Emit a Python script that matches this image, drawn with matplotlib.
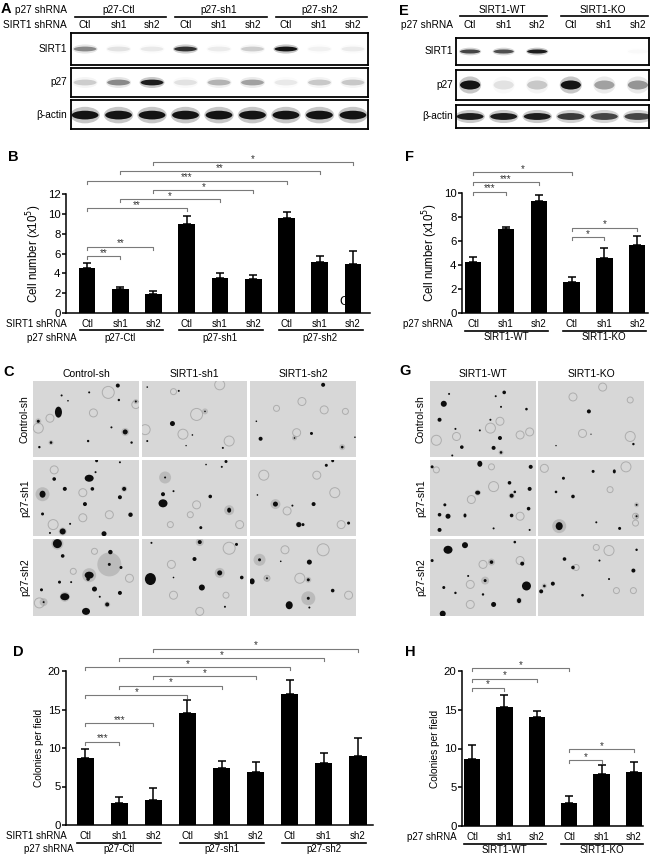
import numpy as np
import matplotlib
matplotlib.use("Agg")
import matplotlib.pyplot as plt
from matplotlib.patches import Ellipse
from matplotlib.transforms import blended_transform_factory

plt.rcParams["font.family"] = ["Liberation Sans", "DejaVu Sans"]

W, H = 650, 856

# ---- bar chart data ----
b_lanes = ["Ctl", "sh1", "sh2"] * 3
b_groups = ["p27-Ctl", "p27-sh1", "p27-sh2"]
b_vals = [4.5, 2.45, 1.9, 9.0, 3.5, 3.4, 9.55, 5.15, 4.9]
b_errs = [0.57, 0.2, 0.27, 0.8, 0.56, 0.43, 0.6, 0.6, 1.38]
b_sig = [(0, 1, 5.75, "**"), (0, 2, 6.7, "**"), (0, 3, 10.55, "**"), (1, 4, 11.45, "*"),
         (2, 5, 12.4, "*"), (0, 6, 13.35, "***"), (1, 7, 14.3, "**"), (2, 8, 15.2, "*")]

f_lanes = ["Ctl", "sh1", "sh2"] * 2
f_groups = ["SIRT1-WT", "SIRT1-KO"]
f_vals = [4.27, 7.04, 9.3, 2.55, 4.55, 5.67]
f_errs = [0.42, 0.12, 0.5, 0.45, 0.84, 0.78]
f_sig = [(0, 1, 10.1, "***"), (0, 2, 10.9, "***"), (0, 3, 11.75, "*"),
         (3, 4, 6.3, "*"), (3, 5, 7.1, "*")]

d_vals = [8.75, 2.9, 3.25, 14.55, 7.45, 6.9, 17.05, 8.0, 8.95]
d_errs = [1.08, 0.77, 1.5, 1.64, 0.9, 1.3, 1.73, 1.3, 2.3]
d_sig = [(0, 1, 10.8, "***"), (0, 2, 13.25, "***"), (0, 3, 16.9, "*"), (1, 4, 18.1, "*"),
         (2, 5, 19.3, "*"), (0, 6, 20.5, "*"), (1, 7, 21.7, "*"), (2, 8, 22.9, "*")]

h_vals = [8.7, 15.35, 14.05, 3.0, 6.65, 7.0]
h_errs = [1.8, 1.5, 0.77, 0.86, 1.2, 1.2]
h_sig = [(0, 1, 17.85, "*"), (0, 2, 19.0, "*"), (0, 3, 20.4, "*"),
         (3, 4, 8.5, "*"), (3, 5, 9.9, "*")]

# ---- western blot band intensities (0 = none, 1 = saturated) ----
a_sirt1 = [0.45, 0.1, 0.08, 0.85, 0.07, 0.18, 1.0, 0.05, 0.07]
a_p27 = [0.18, 0.45, 0.95, 0.1, 0.28, 0.35, 0.08, 0.2, 0.2]
a_actin = [1.0, 1.0, 1.0, 1.0, 1.0, 1.0, 1.0, 1.0, 1.0]
e_sirt1 = [0.75, 0.7, 0.95, 0.0, 0.0, 0.02]
e_p27 = [1.0, 0.1, 0.2, 1.0, 0.35, 0.4]
e_actin = [0.95, 0.95, 0.95, 0.8, 0.75, 0.75]

# ---- soft agar micrographs: colonies (x, y, rx px, ry px, halo px), rings (x, y, r px) ----
c_cols = ["Control-sh", "SIRT1-sh1", "SIRT1-sh2"]
g_cols = ["SIRT1-WT", "SIRT1-KO"]
img_rows = ["Control-sh", "p27-sh1", "p27-sh2"]

c_colonies = [
    [(0.24, 0.41, 3.5, 5.5, 0), (0.80, 0.06, 2, 2, 0), (0.81, 0.25, 1.2, 1.2, 0), (0.87, 0.67, 2.5, 2.5, 4),
     (0.05, 0.53, 1.5, 1.5, 3), (0.17, 0.81, 1.3, 1.3, 2.5), (0.06, 0.87, 1.2, 1.2, 0), (0.52, 0.79, 1.2, 1.2, 0),
     (0.74, 0.61, 1, 1, 0), (0.93, 0.81, 1.2, 1.2, 0), (0.53, 0.15, 1, 1, 0), (0.27, 0.19, 1, 1, 0),
     (0.33, 0.26, 0.8, 0.8, 0), (0.97, 0.27, 1, 1, 2.5)],
    [(0.29, 0.56, 2.5, 2.5, 0), (0.35, 0.13, 1, 1, 0), (0.05, 0.79, 1, 1, 0), (0.48, 0.71, 0.8, 0.8, 0),
     (0.77, 0.88, 1, 1, 0), (0.05, 0.08, 0.8, 0.8, 0), (0.60, 0.40, 0.8, 0.8, 3), (0.42, 0.85, 0.7, 0.7, 0)],
    [(0.69, 0.05, 2, 2, 0), (0.10, 0.76, 2, 2, 0), (0.58, 0.69, 1.5, 1.5, 0), (0.87, 0.87, 1.3, 1.3, 3),
     (0.06, 0.53, 0.8, 0.8, 0), (0.99, 0.74, 0.8, 0.8, 0), (0.42, 0.75, 0.8, 0.8, 2.5)],
    [(0.09, 0.45, 3, 3.5, 7), (0.53, 0.24, 4.5, 3.5, 0), (0.20, 0.25, 1.8, 1.8, 0), (0.30, 0.38, 2, 2, 0),
     (0.56, 0.38, 1.8, 1.8, 0), (0.49, 0.58, 2, 2, 0), (0.82, 0.49, 2, 2, 0), (0.86, 0.38, 2, 2, 3),
     (0.92, 0.72, 2.2, 2.2, 0), (0.09, 0.71, 1.5, 1.5, 0), (0.28, 0.94, 3, 3, 4), (0.67, 0.97, 2.5, 2.5, 0),
     (0.60, 0.01, 1.5, 1.5, 0), (0.35, 0.84, 1, 1, 0), (0.16, 0.96, 1, 1, 0), (0.59, 0.16, 1, 1, 0),
     (0.82, 0.03, 1, 1, 0)],
    [(0.20, 0.57, 4.5, 4, 0), (0.20, 0.45, 2, 2, 0), (0.65, 0.48, 1.8, 1.8, 0), (0.83, 0.66, 2, 2.5, 5),
     (0.56, 0.89, 1.5, 1.5, 0), (0.80, 0.02, 1.5, 1.5, 0), (0.76, 0.09, 1, 1, 0), (0.22, 0.23, 1, 1, 6),
     (0.30, 0.41, 1, 1, 0), (0.61, 0.06, 0.8, 0.8, 0)],
    [(0.24, 0.58, 2.5, 2.5, 5), (0.46, 0.85, 2.5, 2.5, 3), (0.60, 0.58, 2, 2, 0), (0.93, 0.83, 1.5, 1.5, 0),
     (0.72, 0.07, 1.5, 1.5, 0), (0.78, 0.01, 1.5, 1.5, 0), (0.40, 0.60, 1, 1, 0), (0.07, 0.46, 0.8, 0.8, 0),
     (0.50, 0.85, 1.5, 1.5, 0)],
    [(0.23, 0.06, 4.5, 4.5, 6), (0.53, 0.47, 4.5, 3.5, 7), (0.72, 0.33, 1.5, 1.5, 12), (0.30, 0.75, 4.5, 3.5, 5),
     (0.50, 0.94, 4, 3.5, 0), (0.58, 0.65, 2.5, 2.5, 0), (0.28, 0.22, 1.8, 1.8, 0), (0.73, 0.17, 2.2, 2.2, 0),
     (0.82, 0.70, 2, 2, 0), (0.70, 0.85, 2, 2, 3), (0.63, 0.75, 1, 1, 0), (0.25, 0.56, 1.5, 1.5, 0),
     (0.08, 0.66, 1.5, 1.5, 0), (0.83, 0.37, 1.5, 1.5, 0), (0.36, 0.56, 1, 1, 0), (0.52, 0.52, 1.8, 1.8, 0),
     (0.10, 0.82, 1, 1, 4)],
    [(0.08, 0.52, 5.5, 6, 0), (0.74, 0.44, 2.5, 2.5, 5), (0.57, 0.63, 3, 3, 0), (0.50, 0.26, 2, 2, 0),
     (0.55, 0.04, 2, 2, 4), (0.09, 0.05, 1, 1, 0), (0.95, 0.50, 1.8, 1.8, 0), (0.79, 0.88, 1, 1, 0),
     (0.90, 0.07, 1.5, 1.5, 0), (0.30, 0.50, 0.8, 0.8, 0)],
    [(0.56, 0.30, 2.5, 2.5, 0), (0.55, 0.53, 1.5, 1.5, 3), (0.37, 0.86, 3.5, 4, 0), (0.55, 0.77, 1.5, 1.5, 7),
     (0.02, 0.55, 2.5, 3, 0), (0.78, 0.67, 1.8, 1.8, 0), (0.56, 0.89, 1, 1, 0), (0.09, 0.27, 1.5, 1.5, 6),
     (0.29, 0.29, 0.8, 0.8, 0), (0.16, 0.51, 1, 1, 2.5)],
]
c_rings = [
    [(0.71, 0.15, 6), (0.57, 0.42, 4), (0.97, 0.31, 4), (0.05, 0.62, 5), (0.16, 0.49, 4)],
    [(0.52, 0.44, 6), (0.30, 0.14, 3), (0.83, 0.79, 5), (0.03, 0.64, 5), (0.39, 0.70, 5), (0.74, 0.05, 5)],
    [(0.49, 0.27, 4), (0.70, 0.38, 4), (0.44, 0.68, 4), (0.90, 0.40, 3), (0.25, 0.36, 3)],
    [(0.47, 0.43, 4), (0.72, 0.72, 4), (0.19, 0.85, 5), (0.47, 0.76, 4), (0.20, 0.13, 4)],
    [(0.27, 0.85, 3), (0.93, 0.85, 4), (0.52, 0.59, 4), (0.46, 0.72, 3)],
    [(0.80, 0.43, 5), (0.63, 0.20, 4), (0.35, 0.67, 4), (0.13, 0.20, 5), (0.86, 0.85, 4)],
    [(0.06, 0.83, 5), (0.58, 0.16, 3), (0.38, 0.42, 3), (0.91, 0.51, 4)],
    [(0.83, 0.12, 6), (0.28, 0.33, 4), (0.30, 0.73, 4), (0.80, 0.73, 3), (0.55, 0.94, 4)],
    [(0.69, 0.14, 6), (0.33, 0.14, 4), (0.47, 0.51, 5), (0.93, 0.73, 4), (0.16, 0.51, 3)],
]
g_colonies = [
    [(0.13, 0.30, 3, 3, 0), (0.09, 0.51, 2, 2, 0), (0.70, 0.15, 1.8, 1.8, 0), (0.67, 0.34, 1, 1, 0),
     (0.18, 0.17, 1, 1, 0), (0.66, 0.75, 2, 2, 0), (0.60, 0.88, 2, 2, 0), (0.30, 0.87, 1.8, 1.8, 0),
     (0.67, 0.94, 1.3, 1.3, 2.5), (0.21, 0.98, 1, 1, 0), (0.24, 0.63, 1, 1, 0), (0.57, 0.51, 1, 1, 0),
     (0.47, 0.65, 1, 1, 0), (0.91, 0.37, 1.3, 1.3, 0), (0.62, 0.20, 1, 1, 0)],
    [(0.48, 0.40, 2, 2, 0), (0.90, 0.83, 1.2, 1.2, 0), (0.17, 0.85, 0.7, 0.7, 0), (0.50, 0.70, 0.6, 0.6, 0)],
    [(0.47, 0.05, 2.5, 3, 0), (0.95, 0.09, 2, 2, 0), (0.45, 0.43, 2.5, 2, 3), (0.75, 0.30, 1.8, 1.8, 0),
     (0.77, 0.47, 2, 2, 3), (0.94, 0.38, 2, 2, 0), (0.17, 0.74, 2.5, 2.5, 0), (0.09, 0.72, 1.8, 1.8, 0),
     (0.14, 0.59, 1.5, 1.5, 0), (0.33, 0.73, 1.5, 2, 0), (0.09, 0.92, 2, 2, 0), (0.77, 0.73, 1.8, 1.8, 0),
     (0.93, 0.64, 1.8, 1.8, 0), (0.94, 0.92, 1, 1, 0), (0.60, 0.90, 1, 1, 0), (0.02, 0.09, 1.5, 1.5, 0),
     (0.80, 0.42, 1.3, 1.3, 0)],
    [(0.20, 0.87, 3.5, 4, 7), (0.24, 0.24, 1.5, 1.5, 0), (0.33, 0.48, 1.8, 1.8, 0), (0.17, 0.42, 1.3, 1.3, 0),
     (0.52, 0.15, 1.5, 1.5, 0), (0.72, 0.15, 1.5, 2, 0), (0.77, 0.90, 1.5, 1.5, 0), (0.93, 0.59, 1, 1, 2.5),
     (0.55, 0.82, 1, 1, 0), (0.93, 0.74, 1, 1, 2.5)],
    [(0.17, 0.14, 4.5, 4, 0), (0.33, 0.08, 3, 3, 0), (0.91, 0.61, 4.5, 4.5, 0), (0.84, 0.80, 2, 2.5, 3),
     (0.60, 0.85, 2.5, 2.5, 0), (0.58, 0.30, 1.8, 1.8, 3.5), (0.87, 0.32, 2, 2, 0), (0.12, 0.97, 3, 3, 0),
     (0.13, 0.63, 1.5, 1.5, 0), (0.24, 0.70, 1.2, 1.2, 0), (0.50, 0.72, 1.2, 1.2, 0), (0.52, 0.54, 1.5, 1.5, 4),
     (0.80, 0.04, 1.3, 1.3, 0), (0.02, 0.28, 1.5, 1.5, 0), (0.36, 0.48, 1, 1, 0)],
    [(0.03, 0.68, 2, 2, 0), (0.14, 0.58, 2, 2, 0), (0.25, 0.26, 1.8, 1.8, 0), (0.33, 0.37, 1.8, 1.8, 0),
     (0.90, 0.41, 2, 2, 0), (0.67, 0.52, 1, 1, 0), (0.42, 0.73, 1.3, 1.3, 0), (0.06, 0.61, 1.3, 1.3, 2.5),
     (0.93, 0.14, 1.2, 1.2, 0), (0.58, 0.28, 1, 1, 0)],
]
g_rings = [
    [(0.66, 0.53, 4), (0.85, 0.71, 4), (0.06, 0.78, 5), (0.57, 0.62, 5), (0.25, 0.73, 4), (0.94, 0.67, 4)],
    [(0.33, 0.21, 4), (0.87, 0.25, 3), (0.61, 0.08, 4), (0.87, 0.73, 5), (0.42, 0.69, 4)],
    [(0.60, 0.35, 5), (0.06, 0.13, 3), (0.39, 0.52, 4), (0.85, 0.74, 4), (0.58, 0.09, 3)],
    [(0.06, 0.11, 4), (0.92, 0.83, 3), (0.83, 0.09, 5), (0.68, 0.39, 3), (0.92, 0.74, 3)],
    [(0.38, 0.59, 4), (0.50, 0.33, 4), (0.85, 0.28, 4), (0.38, 0.85, 4)],
    [(0.67, 0.15, 5), (0.55, 0.11, 3), (0.36, 0.37, 3), (0.74, 0.67, 3), (0.90, 0.67, 3)],
]

fig = plt.figure(figsize=(W / 100, H / 100), dpi=100)
pix = fig.add_axes([0, 0, 1, 1])
pix.set_xlim(0, W)
pix.set_ylim(H, 0)
pix.axis("off")


def box(x0, y0, x1, y1):
    return fig.add_axes([x0 / W, 1 - y1 / H, (x1 - x0) / W, (y1 - y0) / H])


def letter(x, y, s):
    pix.text(x, y, s, fontsize=10.5, fontweight="bold", ha="left", va="center")


def blot(ax, levels, xlim, bw, bh, yc=0.5):
    ax.set_xlim(xlim)
    ax.set_ylim(0, 1)
    ax.set_xticks([])
    ax.set_yticks([])
    for s in ax.spines.values():
        s.set_linewidth(1.3)
    for i, lv in enumerate(levels):
        if lv <= 0:
            continue
        ax.add_patch(Ellipse((i, yc), bw * 1.1, bh * 1.9, color="black", alpha=0.22 * lv, lw=0))
        ax.add_patch(Ellipse((i, yc), bw, bh, color="black", alpha=min(1, 0.9 * lv), lw=0))


def lane_header(ax, lanes, groups, y_lane, y_line, y_group, span, center, size=7.3):
    tr = blended_transform_factory(ax.transData, pix.transData)
    for i, lab in enumerate(lanes):
        pix.text(i, y_lane, lab, transform=tr, ha="center", va="center", fontsize=size)
    for g, lab in enumerate(groups):
        a, b = 3 * g + span[0], 3 * g + span[1]
        pix.plot([a, b], [y_line, y_line], color="black", lw=1.2, transform=tr, clip_on=False)
        pix.text(3 * g + center, y_group, lab, transform=tr, ha="center", va="center", fontsize=size)


def bar_panel(ax, vals, errs, sig, xlim, ymax, step, drop, ylabel, ylsize):
    x = np.arange(len(vals))
    ax.bar(x, vals, width=0.5, color="black")
    ax.errorbar(x, vals, yerr=[np.zeros(len(vals)), errs], fmt="none", ecolor="black",
                elinewidth=1.1, capsize=2.6, capthick=1.1)
    ax.set_xlim(xlim)
    ax.set_ylim(0, ymax)
    ax.set_yticks(np.arange(0, ymax + 0.01, step))
    ax.set_xticks([])
    for side in ["top", "right"]:
        ax.spines[side].set_visible(False)
    for side in ["left", "bottom"]:
        ax.spines[side].set_linewidth(1.1)
    ax.tick_params(axis="y", length=3, width=1.1, labelsize=8.2, pad=1)
    ax.set_facecolor("none")
    ax.set_ylabel(ylabel, fontsize=ylsize, labelpad=3)
    for i, j, h, st in sig:
        ax.plot([i, i, j, j], [h - drop, h, h, h - drop], color="#7a7a7a", lw=0.8, clip_on=False)
        ax.annotate(st, xy=((i + j) / 2, h), xytext=(0, 0.2), textcoords="offset points",
                    ha="center", va="baseline", fontsize=7, color="#333333", annotation_clip=False)


def micrograph(ax, colonies, rings, wpx, hpx):
    ax.set_facecolor("#d7d7d7")
    ax.set_xlim(0, 1)
    ax.set_ylim(1, 0)
    ax.set_xticks([])
    ax.set_yticks([])
    for s in ax.spines.values():
        s.set_visible(False)
    for x, y, r in rings:
        ax.add_patch(Ellipse((x, y), 2 * r / wpx, 2 * r / hpx, fill=False, ec="#adadad", lw=0.7))
    for x, y, rx, ry, halo in colonies:
        if halo:
            ax.add_patch(Ellipse((x, y), 2 * halo / wpx, 2 * halo / hpx, color="#9a9a9a", alpha=0.45, lw=0))
        ax.add_patch(Ellipse((x, y), 2 * rx / wpx, 2 * ry / hpx, color="#0d0d0d", lw=0))


# ---------------- A ----------------
letter(1, 9, "A")
pix.text(67, 10, "p27 shRNA", ha="right", va="center", fontsize=7.3)
pix.text(67, 25, "SIRT1 shRNA", ha="right", va="center", fontsize=7.3)
a_xlim = (-0.42, 8.45)
ax_a1 = box(71, 33, 368, 65)
blot(ax_a1, a_sirt1, a_xlim, 0.68, 0.15)
ax_a2 = box(71, 68, 368, 97)
blot(ax_a2, a_p27, a_xlim, 0.68, 0.2)
ax_a3 = box(71, 100, 368, 129)
blot(ax_a3, a_actin, a_xlim, 0.8, 0.3, 0.48)
lane_header(ax_a1, b_lanes, b_groups, 25, 17, 10, (-0.3, 2.42), 1.0)
for y, lab in [(49, "SIRT1"), (82, "p27"), (115, "\u03b2-actin")]:
    pix.text(67, y, lab, ha="right", va="center", fontsize=7.3)

# ---------------- E ----------------
letter(399, 11, "E")
pix.text(453, 25, "p27 shRNA", ha="right", va="center", fontsize=7.3)
e_xlim = (-0.42, 5.33)
ax_e1 = box(456, 38, 649, 65)
blot(ax_e1, e_sirt1, e_xlim, 0.6, 0.15)
ax_e2 = box(456, 70, 649, 100)
blot(ax_e2, e_p27, e_xlim, 0.6, 0.3)
ax_e3 = box(456, 105, 649, 128)
blot(ax_e3, e_actin, e_xlim, 0.8, 0.3)
lane_header(ax_e1, f_lanes, f_groups, 25, 16, 10, (-0.3, 2.3), 0.95)
for y, lab in [(51, "SIRT1"), (85, "p27"), (116, "\u03b2-actin")]:
    pix.text(453, y, lab, ha="right", va="center", fontsize=7.3)

# ---------------- B ----------------
letter(8, 157, "B")
ax_b = box(66, 194, 370, 313)
bar_panel(ax_b, b_vals, b_errs, b_sig, (-0.63, 8.51), 12, 2, 0.3, "Cell number (x10$^5$)", 8.3)
ax_b.text(7.72, 1.1, "C", fontsize=9, ha="center", va="center")
lane_header(ax_b, b_lanes, b_groups, 324, 329.5, 338, (-0.22, 2.3), 1.0, 7)
pix.text(67, 324, "SIRT1 shRNA", ha="right", va="center", fontsize=7)
pix.text(77, 338, "p27 shRNA", ha="right", va="center", fontsize=7)

# ---------------- F ----------------
letter(405, 157, "F")
ax_f = box(462, 193, 648, 313)
bar_panel(ax_f, f_vals, f_errs, f_sig, (-0.34, 5.33), 10, 2, 0.25, "Cell number (x10$^5$)", 8.3)
lane_header(ax_f, f_lanes, f_groups, 324, 330.5, 337.5, (-0.25, 2.28), 1.0, 7)
pix.text(453, 324, "p27 shRNA", ha="right", va="center", fontsize=7)

# ---------------- C ----------------
letter(3, 372, "C")
c_x = [(33, 139), (142, 247), (250, 356)]
img_y = [(381, 457), (460, 536), (539, 616)]
for r, (y0, y1) in enumerate(img_y):
    pix.text(25, (y0 + y1) / 2, img_rows[r], rotation=90, ha="center", va="center", fontsize=7.5)
    for c, (x0, x1) in enumerate(c_x):
        axm = box(x0, y0, x1, y1)
        micrograph(axm, c_colonies[3 * r + c], c_rings[3 * r + c], x1 - x0, y1 - y0)
for c, (x0, x1) in enumerate(c_x):
    pix.text((x0 + x1) / 2, 374, c_cols[c], ha="center", va="center", fontsize=7.5)

# ---------------- G ----------------
letter(399, 371, "G")
g_x = [(430, 536), (538, 644)]
for r, (y0, y1) in enumerate(img_y):
    pix.text(421, (y0 + y1) / 2, img_rows[r], rotation=90, ha="center", va="center", fontsize=7.5)
    for c, (x0, x1) in enumerate(g_x):
        axm = box(x0, y0, x1, y1)
        micrograph(axm, g_colonies[2 * r + c], g_rings[2 * r + c], x1 - x0, y1 - y0)
for c, (x0, x1) in enumerate(g_x):
    pix.text((x0 + x1) / 2, 374, g_cols[c], ha="center", va="center", fontsize=7.5)

# ---------------- D ----------------
letter(13, 652, "D")
ax_d = box(66, 671, 373, 825)
bar_panel(ax_d, d_vals, d_errs, d_sig, (-0.56, 8.44), 20, 5, 0.39, "Colonies per field", 7.3)
lane_header(ax_d, b_lanes, b_groups, 836, 843, 849.5, (-0.23, 2.23), 1.0, 7)
pix.text(67, 836, "SIRT1 shRNA", ha="right", va="center", fontsize=7)
pix.text(74, 849.5, "p27 shRNA", ha="right", va="center", fontsize=7)

# ---------------- H ----------------
letter(405, 652, "H")
ax_h = box(462, 671, 643, 826)
bar_panel(ax_h, h_vals, h_errs, h_sig, (-0.31, 5.28), 20, 5, 0.39, "Colonies per field", 7.3)
lane_header(ax_h, f_lanes, f_groups, 837, 843.5, 850, (-0.25, 2.28), 1.0, 7)
pix.text(457, 837, "p27 shRNA", ha="right", va="center", fontsize=7)

fig.savefig("out.png", dpi=100)
